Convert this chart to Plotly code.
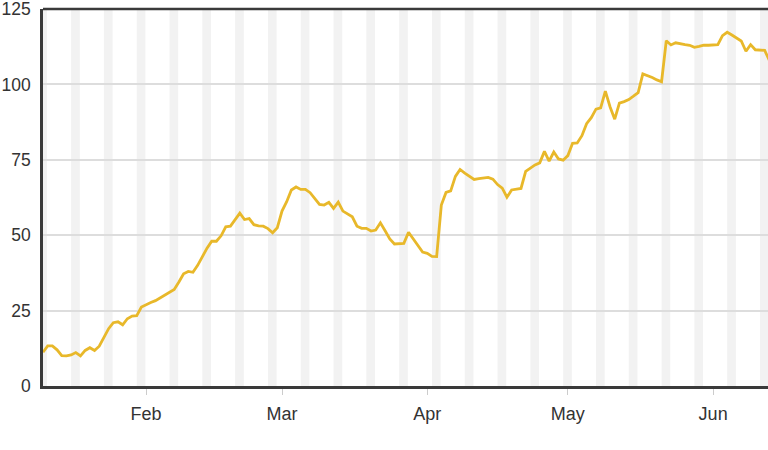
import pandas as pd
import plotly.graph_objects as go

start_date = "2016-01-10"
values = [
    # Jan 10 - Jan 31
    11.2, 13.3, 13.3, 12.0, 10.1, 10.0, 10.3, 11.1, 10.0, 11.8, 12.7,
    11.8, 13.2, 16.2, 19.0, 21.0, 21.3, 20.3, 22.3, 23.2, 23.3, 26.2,
    # Feb 1 - Feb 29
    27.0, 27.7, 28.3, 29.2, 30.2, 31.2, 32.0, 34.5, 37.2, 38.0, 37.7,
    40.0, 43.0, 45.7, 48.0, 48.0, 49.8, 52.8, 53.0, 55.3, 57.3, 55.2,
    55.5, 53.5, 53.1, 53.0, 52.2, 50.8, 52.5,
    # Mar 1 - Mar 31
    58.0, 61.1, 65.0, 66.0, 65.2, 65.2, 64.1, 62.2, 60.2, 60.0, 60.9,
    58.9, 61.0, 58.0, 57.0, 56.1, 53.0, 52.3, 52.3, 51.4, 51.7, 54.1,
    51.5, 48.8, 47.1, 47.1, 47.3, 51.0, 48.7, 46.6, 44.4,
    # Apr 1 - Apr 30
    44.0, 43.0, 42.9, 60.0, 64.2, 64.7, 69.5, 71.8, 70.6, 69.5, 68.5,
    68.8, 68.9, 69.2, 68.6, 66.8, 65.6, 62.6, 65.0, 65.2, 65.5, 71.2,
    72.2, 73.3, 74.0, 77.8, 74.6, 77.6, 75.3, 74.9,
    # May 1 - May 31
    76.4, 80.5, 80.6, 83.0, 87.0, 89.0, 91.8, 92.2, 97.8, 92.6, 88.5,
    93.8, 94.3, 95.0, 96.1, 97.3, 103.5, 103.0, 102.3, 101.5, 100.9, 114.5,
    113.1, 113.8, 113.4, 113.2, 113.0, 112.3, 112.6, 113.0, 113.0,
    # Jun 1 - Jun 13
    113.0, 113.2, 116.2, 117.3, 116.4, 115.4, 114.4, 111.0, 113.2, 111.5,
    111.5, 111.3, 108.0,
]
dates = pd.date_range(start_date, periods=len(values), freq="D")

y_ticks = [0, 25, 50, 75, 100, 125]
x_tick_dates = ["2016-02-01", "2016-03-01", "2016-04-01", "2016-05-01", "2016-06-01"]
x_tick_labels = ["Feb", "Mar", "Apr", "May", "Jun"]
x_range = ["2016-01-10", "2016-06-12 17:00"]

fig = go.Figure()
fig.add_trace(go.Scatter(
    x=dates, y=values, mode="lines",
    line=dict(color="#e8b82a", width=2.8),
    hoverinfo="x+y", showlegend=False,
))

# weekend bands (Saturday and Sunday)
for d in pd.date_range("2016-01-02", "2016-06-30", freq="W-SAT"):
    fig.add_shape(type="rect", xref="x", yref="paper",
                  x0=d, x1=d + pd.Timedelta(days=1.85), y0=0, y1=1,
                  fillcolor="#f2f2f2", line=dict(width=0), layer="below")

# top border
fig.add_shape(type="line", xref="paper", yref="paper", x0=0, x1=1, y0=1, y1=1,
              line=dict(color="#3a3a3a", width=2.5))

fig.update_layout(
    width=768, height=450,
    margin=dict(l=43, r=0, t=9, b=64),
    paper_bgcolor="white", plot_bgcolor="white",
    font=dict(family="Liberation Sans, Arial, sans-serif", size=17, color="#333333"),
    xaxis=dict(
        range=x_range, tickmode="array", tickvals=x_tick_dates, ticktext=x_tick_labels,
        showgrid=False, zeroline=False, showline=True, linecolor="#3a3a3a", linewidth=2.5,
        ticks="outside", ticklen=6, tickcolor="#cccccc", tickwidth=1,
        ticklabelstandoff=4, tickfont=dict(size=18, color="#333333"), automargin=False,
        ticklabeloverflow="allow",
    ),
    yaxis=dict(
        range=[0, 125.02], tickmode="array", tickvals=y_ticks,
        showgrid=True, gridcolor="#dddddd", gridwidth=1.5, zeroline=False,
        showline=True, linecolor="#3a3a3a", linewidth=2.5, ticks="",
        ticklabelstandoff=6, tickfont=dict(size=17.5, color="#333333"), automargin=False,
        ticklabeloverflow="allow",
    ),
)

fig.write_html("out.html", config={"displayModeBar": False},
               post_script="document.body.style.margin='0';")
